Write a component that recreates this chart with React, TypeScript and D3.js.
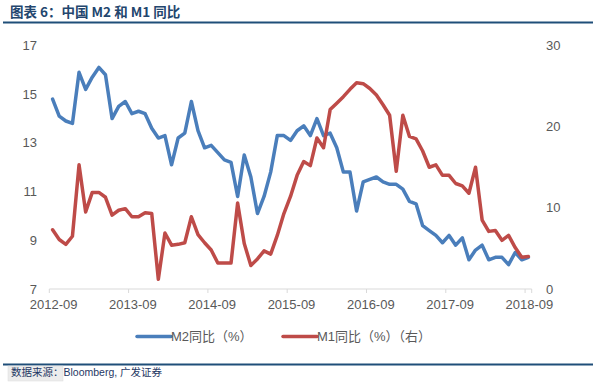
import * as React from 'react';
import * as d3 from 'd3';

// monthly YoY growth, 2012-09 .. 2018-09
const m2 = [
  14.8, 14.1, 13.9, 13.8,
  15.9, 15.2, 15.7, 16.1, 15.8, 14.0, 14.5, 14.7, 14.2, 14.3, 14.2, 13.6,
  13.2, 13.3, 12.1, 13.2, 13.4, 14.7, 13.5, 12.8, 12.9, 12.6, 12.3, 12.2,
  10.8, 12.5, 11.6, 10.1, 10.8, 11.8, 13.3, 13.3, 13.1, 13.5, 13.7, 13.3,
  14.0, 13.3, 13.4, 12.8, 11.8, 11.8, 10.2, 11.4, 11.5, 11.6, 11.4, 11.3,
  11.3, 11.1, 10.6, 10.5, 9.6, 9.4, 9.2, 8.9, 9.2, 8.8, 9.1, 8.2,
  8.6, 8.8, 8.2, 8.3, 8.3, 8.0, 8.5, 8.2, 8.3,
];

const m1 = [
  7.3, 6.1, 5.5, 6.5,
  15.3, 9.5, 11.9, 11.9, 11.3, 9.1, 9.7, 9.9, 8.9, 8.9, 9.4, 9.3,
  1.2, 6.9, 5.4, 5.5, 5.7, 8.9, 6.7, 5.7, 4.8, 3.2, 3.2, 3.2,
  10.6, 5.6, 2.9, 3.7, 4.7, 4.3, 6.6, 9.3, 11.4, 14.0, 15.7, 15.2,
  18.6, 17.4, 22.1, 22.9, 23.7, 24.6, 25.4, 25.3, 24.7, 23.9, 22.7, 21.4,
  14.5, 21.4, 18.8, 18.5, 17.0, 15.0, 15.3, 14.0, 14.0, 13.0, 12.7, 11.8,
  15.0, 8.5, 7.1, 7.2, 6.0, 6.6, 5.1, 3.9, 4.0,
];

const xTickLabels = ['2012-09', '2013-09', '2014-09', '2015-09', '2016-09', '2017-09', '2018-09'];
const leftTicks = [7, 9, 11, 13, 15, 17];
const rightTicks = [0, 10, 20, 30];

const W = 593;
const H = 385;
const FONT = '"Liberation Sans", Arial, "Noto Sans CJK SC", sans-serif';
const CJK = '"Noto Sans CJK SC", "Liberation Sans", sans-serif';
const BLUE = '#4a7ebb';
const RED = '#be4b48';
const AXIS_TXT = '#595959';

export default function App() {
  const root = React.useRef<SVGSVGElement>(null);

  React.useEffect(() => {
    const svg = d3.select(root.current);
    svg.selectAll('*').remove();

    const months = d3.range(m2.length);
    const x = d3.scaleBand<number>().domain(months).range([49.3, 531.7]);
    const yL = d3.scaleLinear().domain([7, 17]).range([289, 45.5]);
    const yR = d3.scaleLinear().domain([0, 30]).range([289, 45.5]);
    const cx = (i: number) => (x(i) as number) + x.bandwidth() / 2;

    svg.append('rect').attr('width', W).attr('height', H).attr('fill', '#fff');

    // title
    svg.append('text')
      .attr('x', 10).attr('y', 17)
      .attr('font-family', CJK).attr('font-weight', 'bold').attr('font-size', 13.5)
      .attr('fill', '#23466e')
      .text('图表 6：中国 M2 和 M1 同比');
    svg.append('rect').attr('x', 3).attr('y', 21.5).attr('width', W - 3).attr('height', 2).attr('fill', '#1f4e79');

    // x axis
    svg.append('line')
      .attr('x1', 49.3).attr('x2', 531.7).attr('y1', 289).attr('y2', 289)
      .attr('stroke', '#d9d9d9').attr('stroke-width', 1);
    xTickLabels.forEach((lab, k) => {
      const i = k * 12;
      svg.append('line')
        .attr('x1', x(i) as number).attr('x2', x(i) as number)
        .attr('y1', 289).attr('y2', 293)
        .attr('stroke', '#d9d9d9');
      svg.append('text')
        .attr('x', cx(i) + 1).attr('y', 309)
        .attr('text-anchor', 'middle')
        .attr('font-family', FONT).attr('font-size', 13).attr('fill', AXIS_TXT)
        .text(lab);
    });
    svg.append('line')
      .attr('x1', 531.7).attr('x2', 531.7).attr('y1', 289).attr('y2', 293)
      .attr('stroke', '#d9d9d9');

    // y axes labels
    svg.selectAll('text.yl').data(leftTicks).enter().append('text')
      .attr('class', 'yl')
      .attr('x', 37).attr('y', (d) => yL(d) + 4.5)
      .attr('text-anchor', 'end')
      .attr('font-family', FONT).attr('font-size', 13).attr('fill', AXIS_TXT)
      .text((d) => d);
    svg.selectAll('text.yr').data(rightTicks).enter().append('text')
      .attr('class', 'yr')
      .attr('x', 546).attr('y', (d) => yR(d) + 4.5)
      .attr('text-anchor', 'start')
      .attr('font-family', FONT).attr('font-size', 13).attr('fill', AXIS_TXT)
      .text((d) => d);

    // lines
    const lineL = d3.line<number>().x((_, i) => cx(i)).y((d) => yL(d));
    const lineR = d3.line<number>().x((_, i) => cx(i)).y((d) => yR(d));
    svg.append('path').datum(m2).attr('d', lineL)
      .attr('fill', 'none').attr('stroke', BLUE).attr('stroke-width', 3.5)
      .attr('stroke-linejoin', 'round').attr('stroke-linecap', 'round');
    svg.append('path').datum(m1).attr('d', lineR)
      .attr('fill', 'none').attr('stroke', RED).attr('stroke-width', 3.5)
      .attr('stroke-linejoin', 'round').attr('stroke-linecap', 'round');

    // legend
    const legend = [
      { x: 137, label: 'M2同比（%）', color: BLUE },
      { x: 283, label: 'M1同比（%）（右）', color: RED },
    ];
    legend.forEach((l) => {
      svg.append('line')
        .attr('x1', l.x).attr('x2', l.x + 34).attr('y1', 336.5).attr('y2', 336.5)
        .attr('stroke', l.color).attr('stroke-width', 3.5).attr('stroke-linecap', 'round');
      svg.append('text')
        .attr('x', l.x + 34).attr('y', 341)
        .attr('font-family', FONT).attr('font-size', 13).attr('fill', AXIS_TXT)
        .text(l.label);
    });

    // footer
    svg.append('rect').attr('x', 3).attr('y', 363.5).attr('width', W - 3).attr('height', 2).attr('fill', '#1f4e79');
    svg.append('rect').attr('x', 8).attr('y', 366).attr('width', 55).attr('height', 15)
      .attr('fill', '#ececec').attr('stroke', '#dcdcdc').attr('stroke-width', 0.5);
    svg.append('text')
      .attr('x', 11).attr('y', 376)
      .attr('font-family', FONT).attr('font-size', 10.5).attr('fill', '#1f3864')
      .text('数据来源：Bloomberg, 广发证券');
  }, []);

  return (
    <svg ref={root} width={W} height={H} style={{ position: 'absolute', left: 0, top: 0 }} />
  );
}
